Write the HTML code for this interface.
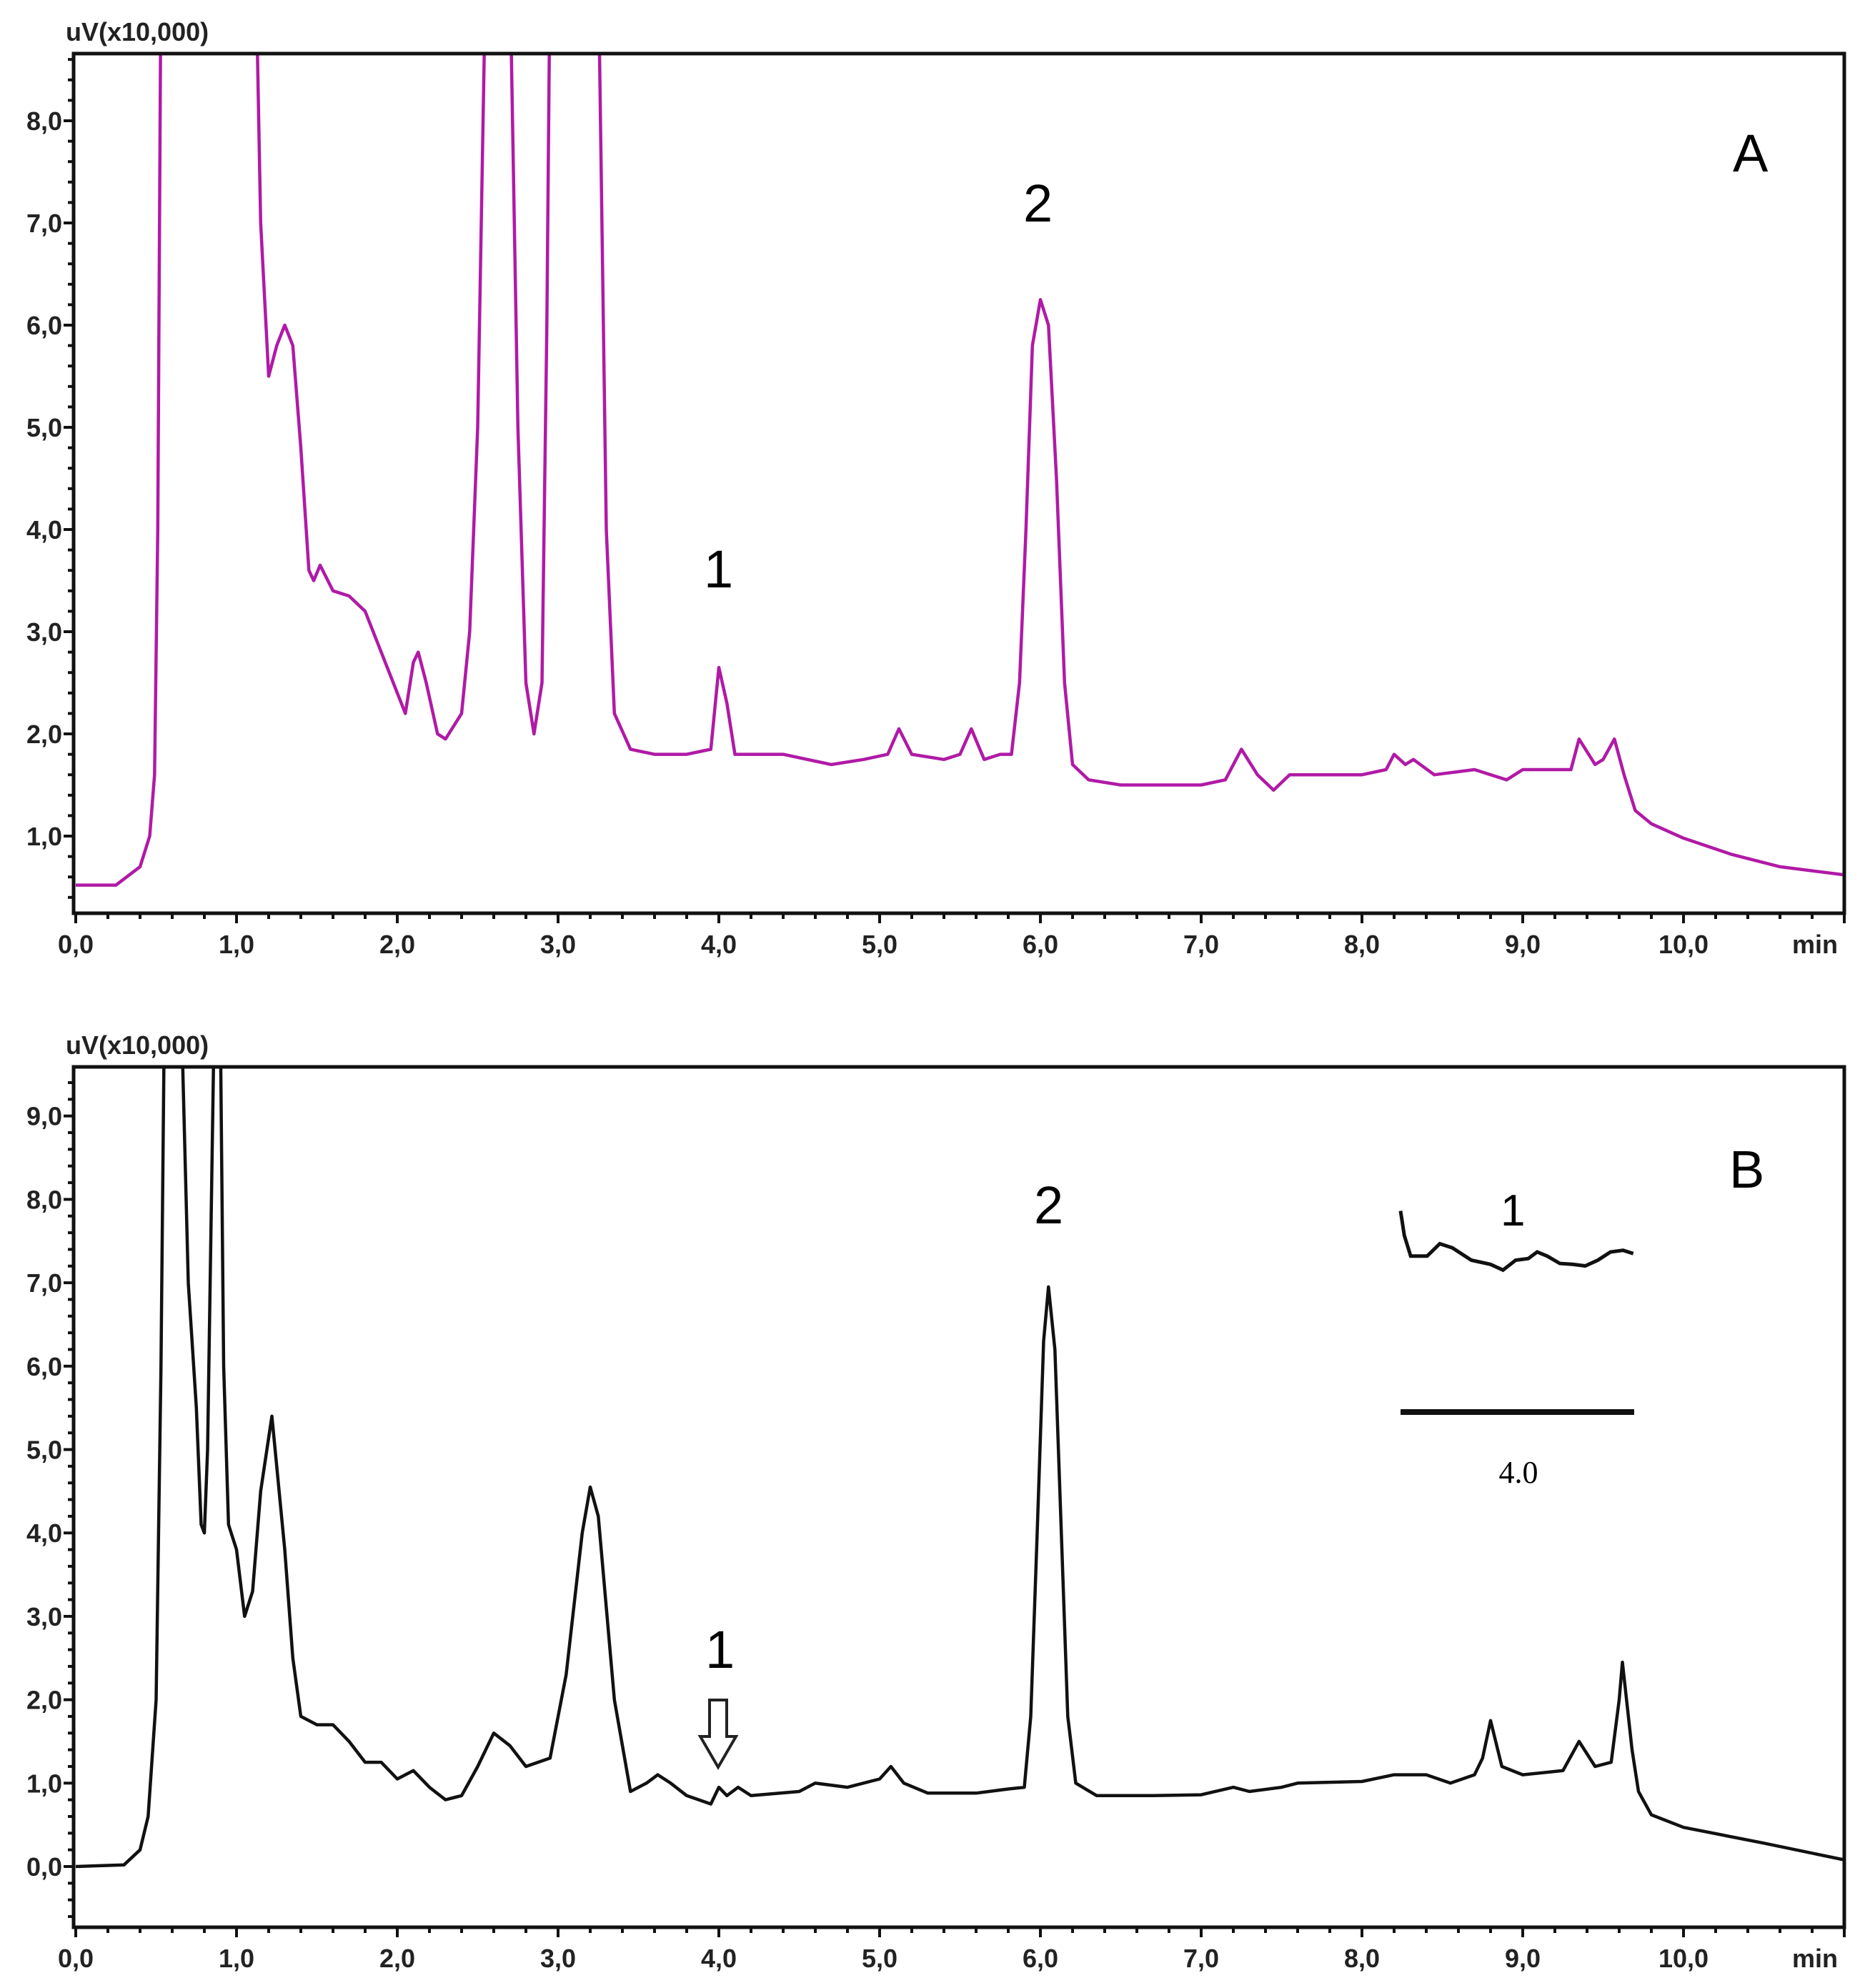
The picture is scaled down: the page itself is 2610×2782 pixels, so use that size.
<!DOCTYPE html>
<html><head><meta charset="utf-8"><style>
html,body{margin:0;padding:0;background:#fff;}
svg{display:block;font-family:"Liberation Sans",sans-serif;}
.tk{font-weight:bold;font-size:36px;fill:#222;}
</style></head><body>
<svg id="chart" width="2610" height="2782" viewBox="0 0 2610 2782" xmlns="http://www.w3.org/2000/svg">
<defs>
<clipPath id="clipA"><rect x="106" y="75" width="2475" height="1203"/></clipPath>
<clipPath id="clipB"><rect x="106" y="1493" width="2475" height="1204"/></clipPath>
</defs>
<g id="panelA"></g>
<g id="panelB"></g>
<text x="2425" y="240" font-size="74">A</text>
<text x="1432" y="310" font-size="74">2</text>
<text x="985" y="822" font-size="74">1</text>
<text x="2420" y="1662" font-size="74">B</text>
<text x="1447" y="1712" font-size="74">2</text>
<text x="987" y="2334" font-size="74">1</text>
<path d="M993,2379 L1017,2379 L1017,2430 L1030,2430 L1005,2473 L980,2430 L993,2430 Z" fill="#fff" stroke="#222" stroke-width="4"/>
<text x="2100" y="1715" font-size="62">1</text>
<line x1="1960" y1="1976" x2="2287" y2="1976" stroke="#111" stroke-width="8"/>
<text x="2125" y="2075" font-size="44" text-anchor="middle" font-family="Liberation Serif, serif">4.0</text>
<polyline id="inset" fill="none" stroke="#111" stroke-width="5"/>
</svg>
<script>
const tA=[0,0.25,0.4,0.46,0.49,0.51,0.53,1.12,1.15,1.2,1.25,1.3,1.35,1.4,1.45,1.48,1.52,1.6,1.7,1.8,1.9,2.0,2.05,2.1,2.13,2.18,2.25,2.3,2.4,2.45,2.5,2.55,2.7,2.75,2.8,2.85,2.9,2.93,2.95,3.25,3.3,3.35,3.45,3.6,3.8,3.95,4.0,4.05,4.1,4.3,4.4,4.7,4.9,5.05,5.12,5.2,5.4,5.5,5.57,5.65,5.75,5.82,5.87,5.91,5.95,6.0,6.05,6.1,6.15,6.2,6.3,6.5,7.0,7.15,7.25,7.35,7.45,7.55,7.65,8.0,8.15,8.2,8.27,8.32,8.45,8.7,8.9,9.0,9.3,9.35,9.45,9.5,9.57,9.63,9.7,9.8,10.0,10.3,10.6,11];
const vA=[0.52,0.52,0.7,1.0,1.6,4,9.5,9.5,7,5.5,5.8,6.0,5.8,4.8,3.6,3.5,3.65,3.4,3.35,3.2,2.8,2.4,2.2,2.7,2.8,2.5,2.0,1.95,2.2,3,5,9.5,9.5,5,2.5,2.0,2.5,6,9.5,9.5,4,2.2,1.85,1.8,1.8,1.85,2.65,2.3,1.8,1.8,1.8,1.7,1.75,1.8,2.05,1.8,1.75,1.8,2.05,1.75,1.8,1.8,2.5,4.0,5.8,6.25,6.0,4.5,2.5,1.7,1.55,1.5,1.5,1.55,1.85,1.6,1.45,1.6,1.6,1.6,1.65,1.8,1.7,1.75,1.6,1.65,1.55,1.65,1.65,1.95,1.7,1.75,1.95,1.6,1.25,1.12,0.98,0.82,0.7,0.62];
const tB=[0,0.3,0.4,0.45,0.5,0.53,0.55,0.66,0.7,0.75,0.78,0.8,0.82,0.86,0.9,0.92,0.95,1.0,1.05,1.1,1.15,1.22,1.3,1.35,1.4,1.5,1.6,1.7,1.8,1.9,2.0,2.1,2.2,2.3,2.4,2.5,2.6,2.7,2.8,2.95,3.05,3.15,3.2,3.25,3.35,3.45,3.55,3.62,3.7,3.8,3.95,4.0,4.05,4.12,4.2,4.5,4.6,4.8,5.0,5.07,5.15,5.3,5.6,5.8,5.9,5.94,5.98,6.02,6.05,6.09,6.13,6.17,6.22,6.35,6.7,7.0,7.2,7.3,7.5,7.6,8.0,8.2,8.4,8.55,8.7,8.75,8.8,8.87,9.0,9.25,9.35,9.45,9.55,9.6,9.62,9.68,9.72,9.8,10.0,10.5,11];
const vB=[0,0.02,0.2,0.6,2,6,10,10,7,5.5,4.1,4.0,5,10,10,6,4.1,3.8,3.0,3.3,4.5,5.4,3.8,2.5,1.8,1.7,1.7,1.5,1.25,1.25,1.05,1.15,0.95,0.8,0.85,1.2,1.6,1.45,1.2,1.3,2.3,4.0,4.55,4.2,2.0,0.9,1.0,1.1,1.0,0.85,0.75,0.95,0.85,0.95,0.85,0.9,1.0,0.95,1.05,1.2,1.0,0.88,0.88,0.93,0.95,1.8,4.0,6.3,6.95,6.2,4.0,1.8,1.0,0.85,0.85,0.86,0.95,0.9,0.95,1.0,1.02,1.1,1.1,1.0,1.1,1.3,1.75,1.2,1.1,1.15,1.5,1.2,1.25,2.0,2.45,1.4,0.9,0.62,0.47,0.28,0.08];
const xTicks=["0,0","1,0","2,0","3,0","4,0","5,0","6,0","7,0","8,0","9,0","10,0"];
const yTicksA=["1,0","2,0","3,0","4,0","5,0","6,0","7,0","8,0"];
const yTicksB=["0,0","1,0","2,0","3,0","4,0","5,0","6,0","7,0","8,0","9,0"];
const insetT=[0,0.3,0.8,2.1,3.1,4.1,5.6,7.1,8.1,9.1,10.1,10.8,11.6,12.6,13.6,14.6,15.6,16.6,17.6,18.4];
const insetV=[7.7,7.4,7.15,7.15,7.3,7.25,7.1,7.05,6.98,7.1,7.12,7.2,7.15,7.06,7.05,7.03,7.1,7.2,7.22,7.18];

const NS="http://www.w3.org/2000/svg";
function mk(tag,attrs,parent){const e=document.createElementNS(NS,tag);for(const k in attrs)e.setAttribute(k,attrs[k]);parent.appendChild(e);return e;}
const X0=106,PPM=225;
function xs(t){return X0+t*PPM;}
function yA(v){return 169+(8-v)*143;}
function yB(v){return 2612-v*116.7;}

function panel(g,top,bottom,ys,vmin,vmax,yLabels,yVals,ts,vs,color,clip,name){
  const left=103,right=2581;
  for(let i=0;i<=55;i++){const t=i*0.2;const x=xs(t);const maj=i%5===0;
    const tk=mk('line',{x1:x,x2:x,y1:bottom,y2:bottom+(maj?14:8),stroke:'#111','stroke-width':4},g);
    }
  xTicks.forEach((lab,i)=>{const tx=mk('text',{x:xs(i),y:bottom+56,'text-anchor':'middle',class:'tk'},g);tx.textContent=lab;
    });
  const mn=mk('text',{x:2540,y:bottom+56,'text-anchor':'middle',class:'tk'},g);mn.textContent='min';
  
  for(let v=Math.ceil(vmin*5)/5;v<=vmax;v+=0.2){const y=ys(v);const maj=Math.abs(v-Math.round(v))<0.01;
    const tk=mk('line',{x1:left-(maj?14:8),x2:left,y1:y,y2:y,stroke:'#111','stroke-width':4},g);
    }
  yLabels.forEach((lab,i)=>{const tx=mk('text',{x:left-16,y:ys(yVals[i])+13,'text-anchor':'end',class:'tk'},g);tx.textContent=lab;
    });
  const u=mk('text',{x:92,y:top-18,class:'tk'},g);u.textContent='uV(x10,000)';
  
  const pts=ts.map((t,i)=>xs(t).toFixed(1)+','+ys(vs[i]).toFixed(1)).join(' ');
  const pl=mk('polyline',{points:pts,fill:'none',stroke:color,'stroke-width':4.5,'stroke-linejoin':'round','clip-path':'url(#'+clip+')'},g);
  
  const fr=mk('rect',{x:left,y:top,width:right-left,height:bottom-top,fill:'none',stroke:'#111','stroke-width':5},g);
  
}
panel(document.getElementById('panelA'),75,1278,yA,0.24,8.66,yTicksA,[1,2,3,4,5,6,7,8],tA,vA,'#b01aa6','clipA','sample-a-trace');
panel(document.getElementById('panelB'),1493,2697,yB,-0.72,9.58,yTicksB,[0,1,2,3,4,5,6,7,8,9],tB,vB,'#111','clipB','sample-b-trace');
const ix=t=>1960+t*17.7, iy=v=>1775-(v-7)*115;
document.getElementById('inset').setAttribute('points',insetT.map((t,i)=>ix(t).toFixed(1)+','+iy(insetV[i]).toFixed(1)).join(' '));
</script>
</body></html>
